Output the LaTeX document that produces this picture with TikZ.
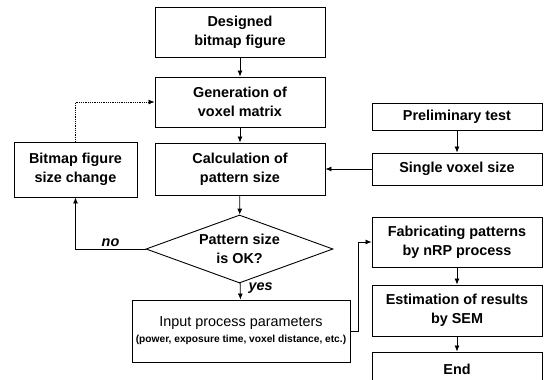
\documentclass[tikz,border=0pt]{standalone}
\usepackage{fontspec}
\setmainfont{Liberation Sans}
\usetikzlibrary{arrows.meta,shapes.geometric}

\tikzset{
  box/.style={draw, line width=0.9pt, align=center, inner sep=1pt,
    font=\bfseries\fontsize{14.4}{19}\selectfont},
  link/.style={-{Latex[length=6pt,width=5pt]}, line width=0.8pt},
  answer/.style={font=\bfseries\itshape\fontsize{14.4}{17}\selectfont, inner sep=2pt}
}

\begin{document}
\begin{tikzpicture}[x=1pt, y=-1pt]
    \useasboundingbox (0,0) rectangle (546,380);

    % Main column
    \node[box, minimum width=170pt, minimum height=50pt] (design) at (240,32) {Designed\\bitmap figure};
    \node[box, minimum width=170pt, minimum height=50pt] (gen) at (240,102) {Generation of\\voxel matrix};
    \node[box, minimum width=170pt, minimum height=52pt] (calc) at (240,169) {Calculation of\\pattern size};
    \node[box, diamond, shape aspect=2.75, inner sep=0pt, minimum width=187pt, minimum height=68pt] (check) at (239.5,249) {Pattern size\\is OK?};
    \node[box, font=\fontsize{14.4}{19}\selectfont, minimum width=218pt, minimum height=62pt] (input) at (241,331)
        {Input process parameters\\[-3pt]{\bfseries\fontsize{10.2}{12}\selectfont (power, exposure time, voxel distance, etc.)}};

    % Loop back
    \node[box, minimum width=123pt, minimum height=55pt] (bitmap) at (75.5,169.5) {Bitmap figure\\size change};

    % Right column
    \node[box, minimum width=170pt, minimum height=27pt] (prelim) at (457,116.5) {Preliminary test};
    \node[box, minimum width=170pt, minimum height=32pt] (single) at (457,169) {Single voxel size};
    \node[box, minimum width=170pt, minimum height=50pt] (fab) at (457,242) {Fabricating patterns\\by nRP process};
    \node[box, minimum width=170pt, minimum height=51pt] (est) at (457,310.5) {Estimation of results\\by SEM};
    \node[box, minimum width=170pt, minimum height=34pt] (end) at (457,369) {End};

    % Arrows
    \draw[link] (design) -- (gen);
    \draw[link] (gen) -- (calc);
    \draw[link] (calc) -- (check);
    \draw[link] (check) -- (input) node[answer, pos=0.3, right, xshift=6pt] {yes};
    \draw[link] (check.west) -| (bitmap.south) node[answer, pos=0.25, above] {no};
    \draw[link, densely dotted] (bitmap.north) |- (gen.west);
    \draw[link] (prelim) -- (single);
    \draw[link] (single) -- (calc);
    \draw[link] (input.east) -- ++(8,0) |- (fab.west);
    \draw[link] (fab) -- (est);
    \draw[link] (est) -- (end);

\end{tikzpicture}
\end{document}
